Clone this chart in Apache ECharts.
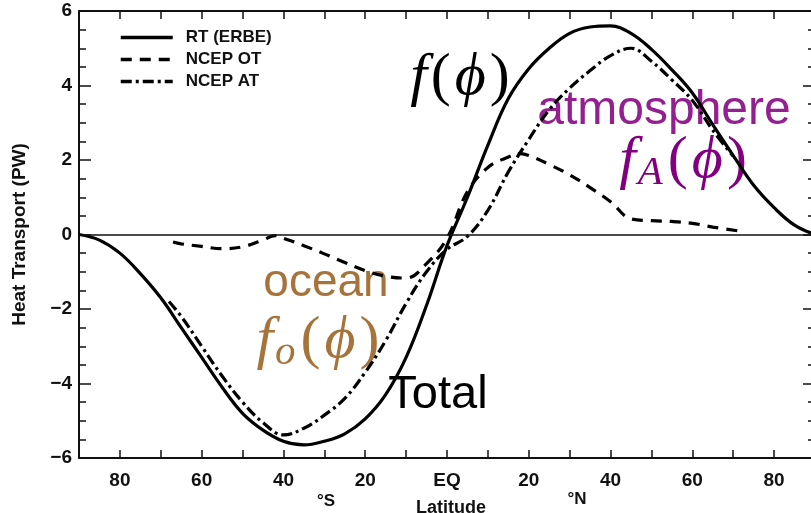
<!DOCTYPE html>
<html>
<head>
    <meta charset="UTF-8">
    <title>Heat Transport</title>
    <script src="https://cdn.jsdelivr.net/npm/echarts@6/dist/echarts.min.js"></script>
    <style>
        html, body {margin: 0; padding: 0; background: #fff;}
        #chart {width: 811px; height: 513px;}
    </style>
</head>
<body>
<div id="chart"></div>
<script type="text/javascript">
    // latitude (deg, S negative) and transport (PW)
    const latRT = [-90, -85, -80, -75, -70, -65, -60, -55, -50, -45, -40, -35, -30, -25, -20, -15, -10, -5, 0,
        5, 10, 15, 20, 25, 30, 35, 40, 45, 50, 55, 60, 65, 70, 75, 80, 85, 90];
    const rtErbe = [0, -0.15, -0.5, -1.05, -1.7, -2.5, -3.3, -4.1, -4.8, -5.25, -5.55, -5.65, -5.55, -5.35, -4.95, -4.3, -3.3, -1.9, -0.3,
        1.0, 2.4, 3.65, 4.45, 5.0, 5.4, 5.57, 5.6, 5.4, 4.97, 4.42, 3.8, 2.95, 2.12, 1.32, 0.72, 0.25, 0];

    const latOT = [-67, -65, -60, -55, -50, -45, -42, -40, -35, -30, -25, -20, -15, -10, -5, 0,
        5, 10, 15, 18, 20, 25, 30, 35, 40, 45, 50, 55, 60, 65, 71];
    const ncepOT = [-0.2, -0.25, -0.32, -0.38, -0.33, -0.15, -0.03, -0.1, -0.3, -0.52, -0.75, -0.97, -1.12, -1.17, -0.78, -0.1,
        1.15, 1.8, 2.08, 2.17, 2.12, 1.88, 1.6, 1.26, 0.88, 0.42, 0.37, 0.35, 0.3, 0.2, 0.1];

    const latAT = [-68, -65, -60, -55, -50, -45, -40, -35, -30, -25, -20, -15, -10, -5, 0,
        5, 10, 15, 20, 25, 30, 35, 40, 45, 50, 55, 60, 65, 70];
    const ncepAT = [-1.8, -2.2, -3.0, -3.8, -4.5, -5.05, -5.38, -5.2, -4.85, -4.4, -3.7, -2.85, -1.85, -1.0, -0.4,
        -0.05, 0.65, 1.68, 2.55, 3.35, 3.93, 4.4, 4.8, 5.0, 4.65, 4.15, 3.6, 2.8, 2.1];

    const seriesNames = ['RT (ERBE)', 'NCEP OT', 'NCEP AT'];

    function pairs(xs, ys) {
        return xs.map((x, i) => [x, ys[i]]);
    }

    // rich text styles for the LaTeX-like labels
    function mathRich(color, size) {
        return {
            i: {fontFamily: "'Liberation Serif', 'DejaVu Serif', serif", fontStyle: 'italic', fontSize: size, lineHeight: size + 6, fill: color, padding: [0, 2, 0, 2]},
            s: {fontFamily: "'Liberation Serif', 'DejaVu Serif', serif", fontStyle: 'italic', fontSize: Math.round(size * 0.68), lineHeight: Math.round(size * 0.5), fill: color, verticalAlign: 'bottom', padding: [0, 3, 0, 0]},
            p: {fontFamily: "'Liberation Serif', 'DejaVu Serif', serif", fontSize: size, lineHeight: size + 6, fill: color, padding: [0, 2, 0, 2]}
        };
    }

    const sansBold = {fontFamily: 'Liberation Sans', fontWeight: 'bold', color: '#111'};
    const axisLine = {show: true, onZero: false, lineStyle: {color: '#111', width: 2}};

    let chart = echarts.init(document.getElementById('chart'));
    let option = {
        animation: false,
        grid: {left: 79, right: -4, top: 11, bottom: 55, containLabel: false, outerBoundsMode: 'none'},
        legend: {
            left: 114, top: 24, orient: 'vertical',
            itemWidth: 52, itemHeight: 14, itemGap: 5,
            data: seriesNames,
            itemStyle: {opacity: 0},
            lineStyle: {width: 3.5},
            textStyle: {fontFamily: 'Liberation Sans', fontWeight: 'bold', fontSize: 17, color: '#111', padding: [0, 0, 0, 8]}
        },
        xAxis: [{
            type: 'value', min: -90, max: 90, interval: 10,
            axisLine: axisLine,
            axisTick: {inside: true, length: 8, lineStyle: {color: '#111', width: 1.5}},
            splitLine: {show: false},
            axisLabel: Object.assign({
                fontSize: 19, margin: 13,
                formatter: v => v % 20 !== 0 ? '' : (v === 0 ? 'EQ' : String(Math.abs(v)))
            }, sansBold),
            name: 'Latitude', nameLocation: 'middle', nameGap: 41,
            nameTextStyle: Object.assign({fontSize: 18, padding: [0, 0, 0, 8]}, sansBold)
        }, {
            type: 'value', min: -90, max: 90, interval: 10, position: 'top',
            axisLine: axisLine,
            axisTick: {inside: true, length: 8, lineStyle: {color: '#111', width: 1.5}},
            axisLabel: {show: false}, splitLine: {show: false}
        }],
        yAxis: [{
            type: 'value', min: -6, max: 6, interval: 2,
            axisLine: axisLine,
            axisTick: {show: true, inside: true, length: 12, lineStyle: {color: '#111', width: 1.5}},
            minorTick: {show: true, splitNumber: 4, length: 7, lineStyle: {color: '#111', width: 1.5}},
            splitLine: {show: false},
            axisLabel: Object.assign({
                fontSize: 19, margin: 7,
                formatter: v => v < 0 ? '−' + Math.abs(v) : String(v)
            }, sansBold),
            name: 'Heat Transport (PW)', nameLocation: 'middle', nameGap: 50, nameRotate: 90,
            nameTextStyle: Object.assign({fontSize: 19}, sansBold)
        }, {
            type: 'value', min: -6, max: 6, interval: 2, position: 'right',
            axisLine: axisLine,
            axisTick: {show: true, inside: true, length: 12, lineStyle: {color: '#111', width: 1.5}},
            minorTick: {show: true, splitNumber: 4, length: 7, lineStyle: {color: '#111', width: 1.5}},
            splitLine: {show: false},
            axisLabel: {show: false}
        }],
        series: [{
            name: seriesNames[0], type: 'line', data: pairs(latRT, rtErbe),
            smooth: 0.4, showSymbol: false, symbol: 'none',
            lineStyle: {color: '#000', width: 3.2},
            itemStyle: {color: '#000'},
            markLine: {
                silent: true, symbol: 'none', label: {show: false},
                lineStyle: {color: '#111', width: 1.5, type: 'solid'},
                data: [{yAxis: 0}]
            }
        }, {
            name: seriesNames[1], type: 'line', data: pairs(latOT, ncepOT),
            smooth: 0.4, showSymbol: false, symbol: 'none',
            lineStyle: {color: '#000', width: 3.2, type: [11, 8]},
            itemStyle: {color: '#000'}
        }, {
            name: seriesNames[2], type: 'line', data: pairs(latAT, ncepAT),
            smooth: 0.4, showSymbol: false, symbol: 'none',
            lineStyle: {color: '#000', width: 3.2, type: [11, 4, 3, 4]},
            itemStyle: {color: '#000'}
        }],
        graphic: [
            {type: 'text', x: 326, y: 501, style: {text: '°S', fontSize: 17, fontFamily: 'Liberation Sans', fontWeight: 'bold', textAlign: 'center', textVerticalAlign: 'middle', fill: '#111'}},
            {type: 'text', x: 577, y: 499, style: {text: '°N', fontSize: 17, fontFamily: 'Liberation Sans', fontWeight: 'bold', textAlign: 'center', textVerticalAlign: 'middle', fill: '#111'}},
            {
                type: 'text', x: 460, y: 78,
                style: {text: '{i|f}{p|(}{i|ϕ}{p|)}', textAlign: 'center', textVerticalAlign: 'middle', rich: mathRich('#000', 60)}
            },
            {type: 'text', x: 664, y: 111, style: {text: 'atmosphere', fontFamily: 'Liberation Sans', fontSize: 48, fill: '#931F90', textAlign: 'center', textVerticalAlign: 'middle'}},
            {
                type: 'text', x: 683, y: 161,
                style: {text: '{i|f}{s|A}{p|(}{i|ϕ}{p|)}', textAlign: 'center', textVerticalAlign: 'middle', rich: mathRich('#800080', 60)}
            },
            {type: 'text', x: 326, y: 283, style: {text: 'ocean', fontFamily: 'Liberation Sans', fontSize: 46, fill: '#A6743A', textAlign: 'center', textVerticalAlign: 'middle'}},
            {
                type: 'text', x: 318, y: 341,
                style: {text: '{i|f}{s|o}{p|(}{i|ϕ}{p|)}', textAlign: 'center', textVerticalAlign: 'middle', rich: mathRich('#A6743A', 60)}
            },
            {type: 'text', x: 438, y: 395, style: {text: 'Total', fontFamily: 'Liberation Sans', fontSize: 47, fill: '#000', textAlign: 'center', textVerticalAlign: 'middle'}}
        ]
    };
    chart.setOption(option);
</script>
</body>
</html>
